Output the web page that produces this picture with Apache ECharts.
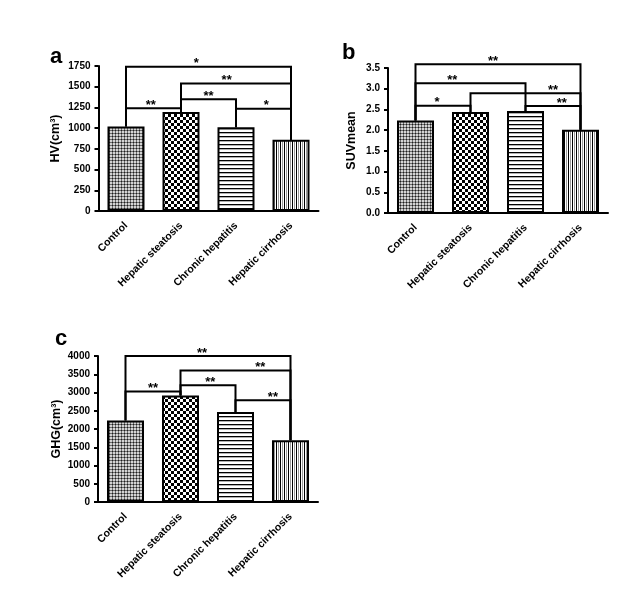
<!DOCTYPE html>
<html><head><meta charset="utf-8">
<script src="https://cdn.jsdelivr.net/npm/echarts@6/dist/echarts.min.js"></script>
<style>html,body{margin:0;padding:0;background:#fff}#chart{width:640px;height:597px}</style>
</head><body><div id="chart"></div>
<script>
// ---- data ----
const categories = ['Control', 'Hepatic steatosis', 'Chronic hepatitis', 'Hepatic cirrhosis'];
const hvValues  = [1020, 1195, 1010, 860];
const suvValues = [2.23, 2.44, 2.46, 2.01];
const ghgValues = [2230, 2915, 2465, 1690];

const hvAxis  = { min: 0, max: 1750, interval: 250 };
const suvAxis = { min: 0, max: 3.5, interval: 0.5 };
const ghgAxis = { min: 0, max: 4000, interval: 500 };

// brackets: [from category, to category, level, stars, star position (category units)]
const hvBrackets  = [[0, 3, 1740, '*', 1.28], [1, 3, 1540, '**', 1.83], [1, 2, 1350, '**', 1.5], [0, 1, 1240, '**', 0.45], [2, 3, 1235, '*', 2.55]];
const suvBrackets = [[0, 3, 3.59, '**', 1.41], [0, 2, 3.13, '**', 0.67], [1, 3, 2.89, '**', 2.5], [0, 1, 2.59, '*', 0.39], [2, 3, 2.58, '**', 2.66]];
const ghgBrackets = [[0, 3, 4000, '**', 1.39], [1, 3, 3600, '**', 2.45], [1, 2, 3200, '**', 1.54], [0, 1, 3030, '**', 0.5], [2, 3, 2790, '**', 2.68]];

const panelLetters = ['a', 'b', 'c'];
const axisNames = ['HV(cm³)', 'SUVmean', 'GHG(cm³)'];

// ---- patterns ----
function makePattern(kind) {
  const c = document.createElement('canvas');
  const ctx = c.getContext('2d');
  if (kind === 'dots') {
    c.width = 3; c.height = 3;
    ctx.fillStyle = '#d4d4d4'; ctx.fillRect(0, 0, 3, 3);
    ctx.fillStyle = '#6e6e6e'; ctx.fillRect(0, 1, 3, 1); ctx.fillRect(1, 0, 1, 3);
    ctx.fillStyle = '#1e1e1e'; ctx.fillRect(1, 1, 1, 1);
  } else if (kind === 'checker') {
    c.width = 6; c.height = 6;
    ctx.fillStyle = '#ffffff'; ctx.fillRect(0, 0, 6, 6);
    ctx.fillStyle = '#000000'; ctx.fillRect(0, 0, 3, 3); ctx.fillRect(3, 3, 3, 3);
  } else if (kind === 'hlines') {
    c.width = 4; c.height = 4;
    ctx.fillStyle = '#ffffff'; ctx.fillRect(0, 0, 4, 4);
    ctx.fillStyle = '#000000'; ctx.fillRect(0, 0, 4, 1);
    ctx.fillStyle = '#b0b0b0'; ctx.fillRect(0, 1, 4, 1);
  } else {
    c.width = 4; c.height = 4;
    ctx.fillStyle = '#ffffff'; ctx.fillRect(0, 0, 4, 4);
    ctx.fillStyle = '#000000'; ctx.fillRect(0, 0, 1, 4);
    ctx.fillStyle = '#9a9a9a'; ctx.fillRect(2, 0, 1, 4);
  }
  return { image: c, repeat: 'repeat' };
}
const patterns = [makePattern('dots'), makePattern('checker'), makePattern('hlines'), makePattern('vlines')];

const FONT = "'Liberation Sans', Arial, sans-serif";

const grids = [
  { left: 98.5, top: 66, width: 220, height: 145 },
  { left: 388, top: 68, width: 220, height: 145 },
  { left: 98, top: 356, width: 220, height: 146 }
];
const axisCfg = [hvAxis, suvAxis, ghgAxis];
const valueSets = [hvValues, suvValues, ghgValues];
const bracketSets = [hvBrackets, suvBrackets, ghgBrackets];
const nameGaps = [36, 30, 35];

const xAxes = grids.map((g, k) => ({
  type: 'category', gridIndex: k, data: categories,
  axisLine: { lineStyle: { color: '#000', width: 2 } },
  axisTick: { alignWithLabel: true, length: 4, lineStyle: { color: '#000', width: 2 } },
  axisLabel: { interval: 0, rotate: 45, margin: 13, color: '#000', fontFamily: FONT, fontWeight: 'bold', fontSize: 10.5 },
  splitLine: { show: false }
}));
const yAxes = grids.map((g, k) => ({
  type: 'value', gridIndex: k,
  min: axisCfg[k].min, max: axisCfg[k].max, interval: axisCfg[k].interval,
  name: axisNames[k], nameLocation: 'middle', nameGap: nameGaps[k],
  nameTextStyle: { color: '#000', fontFamily: FONT, fontWeight: 'bold', fontSize: 12.5 },
  axisLine: { show: true, lineStyle: { color: '#000', width: 2 } },
  axisTick: { show: true, length: 4, lineStyle: { color: '#000', width: 2 } },
  axisLabel: {
    color: '#000', fontFamily: FONT, fontWeight: 'bold', fontSize: 10, margin: 8,
    formatter: v => k === 1 ? v.toFixed(1) : String(v)
  },
  splitLine: { show: false }
}));

function bracketRenderer(values, brackets) {
  return function (params, api) {
    const b = brackets[params.dataIndex];
    const i = b[0], j = b[1], lvl = b[2];
    const pA0 = api.coord([i, values[i]]);
    const pA1 = api.coord([i, lvl]);
    const pB1 = api.coord([j, lvl]);
    const pB0 = api.coord([j, values[j]]);
    const sx = pA1[0] + (b[4] - i) * (pB1[0] - pA1[0]) / (j - i);
    return {
      type: 'group',
      children: [
        { type: 'polyline', shape: { points: [pA0, pA1, pB1, pB0] },
          style: { stroke: '#000', lineWidth: 2, fill: null } },
        { type: 'text', x: sx, y: pA1[1] - 3,
          style: { text: b[3], fill: '#000', font: 'bold 13px ' + FONT, align: 'center', verticalAlign: 'middle' } }
      ]
    };
  };
}

const series = [];
valueSets.forEach((vals, k) => {
  series.push({
    type: 'bar', xAxisIndex: k, yAxisIndex: k, barWidth: 37,
    data: vals.map((v, i) => ({ value: v, itemStyle: { color: patterns[i] } })),
    itemStyle: { borderColor: '#000', borderWidth: 2 },
    emphasis: { disabled: true }, silent: true
  });
  series.push({
    type: 'custom', xAxisIndex: k, yAxisIndex: k, clip: false, silent: true,
    renderItem: bracketRenderer(vals, bracketSets[k]),
    data: bracketSets[k].map(b => [b[0], b[2]]),
    encode: { x: 0, y: 1 }, z: 5
  });
});

const letterPos = [[50, 46], [342, 42], [55, 328]];
const chart = echarts.init(document.getElementById('chart'), null, { renderer: 'canvas' });
chart.setOption({
  animation: false,
  backgroundColor: '#fff',
  grid: grids,
  xAxis: xAxes,
  yAxis: yAxes,
  series: series,
  graphic: panelLetters.map((t, k) => ({
    type: 'text', x: letterPos[k][0], y: letterPos[k][1],
    style: { text: t, fill: '#000', font: 'bold 22px ' + FONT, verticalAlign: 'alphabetic' }
  }))
});
</script>
</body></html>
